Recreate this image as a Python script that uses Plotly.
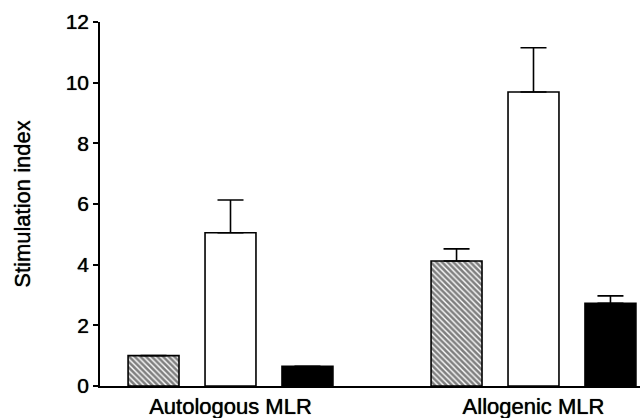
import plotly.graph_objects as go

categories = ["Autologous MLR", "Allogenic MLR"]
hatched_vals = [1.0, 4.12]
hatched_err = [0.0, 0.40]
white_vals = [5.05, 9.69]
white_err = [1.08, 1.46]
black_vals = [0.65, 2.73]
black_err = [0.0, 0.24]
y_ticks = [0, 2, 4, 6, 8, 10, 12]

FONT = "Liberation Sans, Arial, sans-serif"
SHADOW = "0px 0px 0.8px #000"

def err(vals):
    return dict(type="data", symmetric=False, array=vals, arrayminus=[0] * len(vals),
                color="black", thickness=1.6, width=13, visible=True)

fig = go.Figure()
fig.add_trace(go.Bar(
    x=categories, y=hatched_vals, error_y=err(hatched_err),
    marker=dict(color="white", line=dict(color="black", width=1.6),
                pattern=dict(shape="\\", fgcolor="black", bgcolor="white", size=4, solidity=0.65)),
    showlegend=False,
))
fig.add_trace(go.Bar(
    x=categories, y=white_vals, error_y=err(white_err),
    marker=dict(color="white", line=dict(color="black", width=1.6)),
    showlegend=False,
))
fig.add_trace(go.Bar(
    x=categories, y=black_vals, error_y=err(black_err),
    marker=dict(color="black", line=dict(color="black", width=1.6)),
    showlegend=False,
))

fig.update_layout(
    width=640, height=418,
    margin=dict(l=100, r=0, t=22, b=32),
    paper_bgcolor="white", plot_bgcolor="white",
    barmode="group", bargap=0.238, bargroupgap=0.338,
    font=dict(family=FONT, color="black"),
    xaxis=dict(
        type="category", range=[-0.4307, 1.3515],
        showline=True, linecolor="black", linewidth=1.6,
        ticks="", showgrid=False, zeroline=False,
        tickfont=dict(size=22, family=FONT, color="black", shadow=SHADOW),
    ),
    yaxis=dict(
        range=[0, 12], tickvals=y_ticks,
        showline=True, linecolor="black", linewidth=1.6,
        ticks="outside", ticklen=5, tickwidth=1.6, tickcolor="black",
        showgrid=False, zeroline=False,
        tickfont=dict(size=21, family=FONT, color="black", shadow=SHADOW),
        title=dict(text="Stimulation index",
                   font=dict(size=22, family=FONT, color="black", shadow=SHADOW), standoff=29),
    ),
)

fig.write_html("out.html")
